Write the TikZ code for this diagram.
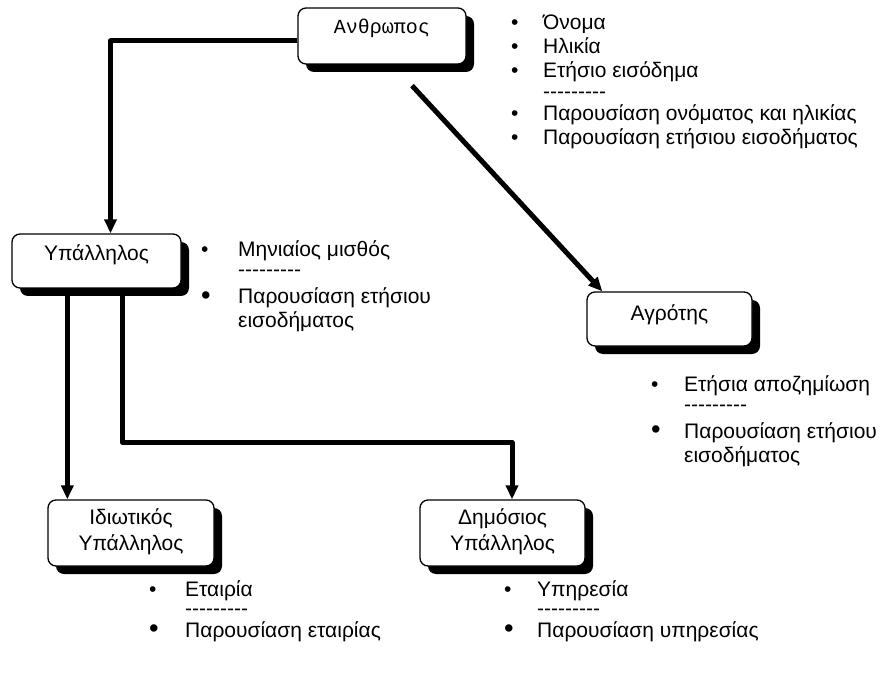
\documentclass[tikz,border=0pt]{standalone}
\usepackage{fontspec}
\setmainfont{Liberation Sans}
\newfontfamily\classmono{Liberation Mono}
\usetikzlibrary{arrows.meta,shadows,calc}

% bullet column of a given width; \bigbul is the larger bullet
\newcommand\smallbul[1]{\makebox[#1][l]{\textbullet}}
\newcommand\bigbul[1]{\makebox[#1][l]{\raisebox{-0.6pt}{\scalebox{1.3}{\textbullet}}}}
\newcommand\sepline{-\kern0pt-\kern0pt-\kern0pt-\kern0pt-\kern0pt-\kern0pt-\kern0pt-\kern0pt-}

\tikzset{
  classbox/.style={draw=black, line width=1.3pt, fill=white, rounded corners=8pt,
    inner sep=0pt, font=\fontsize{21}{26}\selectfont,
    drop shadow={shadow xshift=8pt, shadow yshift=-8pt, fill=black, opacity=1}},
  conn/.style={line width=5pt, line join=round, -{Triangle[length=14pt,width=12pt]}},
  attrlist/.style={anchor=base west, inner sep=0pt, font=\fontsize{21}{24}\selectfont},
}

\begin{document}
\begin{tikzpicture}[x=1pt, y=-1pt]
\useasboundingbox[fill=white] (0,0) rectangle (892,679);

% classes
\node[classbox, minimum width=168pt, text height=26pt, text depth=30pt, font=\classmono\fontsize{20}{24}\selectfont]
  (anth) at (382,36) {Ανθρωπος};
\node[classbox, minimum width=169pt, text height=27pt, text depth=27pt] (upal) at (96.5,261) {Υπάλληλος};
\node[classbox, minimum width=165pt, text height=28pt, text depth=26pt] (agro) at (669.5,319) {Αγρότης};
\node[classbox, minimum width=166pt, text height=24pt, text depth=42pt] (idio) at (131,533)
  {\begin{tabular}[t]{@{}c@{}}Ιδιωτικός\\Υπάλληλος\end{tabular}};
\node[classbox, minimum width=165pt, text height=24pt, text depth=42pt] (dimo) at (502.5,533)
  {\begin{tabular}[t]{@{}c@{}}Δημόσιος\\Υπάλληλος\end{tabular}};

% attributes and methods
\node[attrlist] (anthlist) at (511,30) {\begin{tabular}[t]{@{}l@{}}
  \smallbul{32pt}Όνομα\\
  \smallbul{32pt}Ηλικία\\
  \smallbul{32pt}Ετήσιο εισόδημα\\[-3pt]
  \hspace*{32pt}\sepline\\[-2pt]
  \smallbul{32pt}Παρουσίαση ονόματος και ηλικίας\\
  \smallbul{32pt}Παρουσίαση ετήσιου εισοδήματος
\end{tabular}};

\node[attrlist] (upallist) at (201,257) {\begin{tabular}[t]{@{}l@{}}
  \smallbul{37pt}Μηνιαίος μισθός\\[-4pt]
  \hspace*{37pt}\sepline\\[3pt]
  \bigbul{37pt}Παρουσίαση ετήσιου\\
  \hspace*{37pt}εισοδήματος
\end{tabular}};

\node[attrlist] (agrolist) at (651,391) {\begin{tabular}[t]{@{}l@{}}
  \smallbul{33pt}Ετήσια αποζημίωση\\[-4pt]
  \hspace*{33pt}\sepline\\[3pt]
  \bigbul{33pt}Παρουσίαση ετήσιου\\
  \hspace*{33pt}εισοδήματος
\end{tabular}};

\node[attrlist] (idiolist) at (149,596) {\begin{tabular}[t]{@{}l@{}}
  \smallbul{36pt}Εταιρία\\[-5pt]
  \hspace*{36pt}\sepline\\[-2pt]
  \bigbul{36pt}Παρουσίαση εταιρίας
\end{tabular}};

\node[attrlist] (dimolist) at (504,596) {\begin{tabular}[t]{@{}l@{}}
  \smallbul{33pt}Υπηρεσία\\[-5pt]
  \hspace*{33pt}\sepline\\[-2pt]
  \bigbul{33pt}Παρουσίαση υπηρεσίας
\end{tabular}};

% inheritance connectors
\coordinate (anthL) at ($(anth.west)+(0,5)$);
\coordinate (upalIn) at ($(upal.north)+(14,0)$);
\draw[conn] (anthL) -| (upalIn);

\coordinate (anthR) at ($(anth.south)+(30,21)$);
\coordinate (agroIn) at ($(agro.north west)+(16,0)$);
\draw[conn] (anthR) -- (agroIn);

\coordinate (upalA) at ($(upal.south west)+(56,0)$);
\coordinate (idioIn) at ($(idio.north west)+(20,0)$);
\draw[conn] (upalA) -- (idioIn);

\coordinate (upalB) at ($(upal.south west)+(111,0)$);
\coordinate (dimoIn) at ($(dimo.north)+(9.5,0)$);
\coordinate (dimoBend) at ($(dimoIn)+(0,-57)$);
\draw[conn] (upalB) |- (dimoBend) -- (dimoIn);
\end{tikzpicture}
\end{document}
